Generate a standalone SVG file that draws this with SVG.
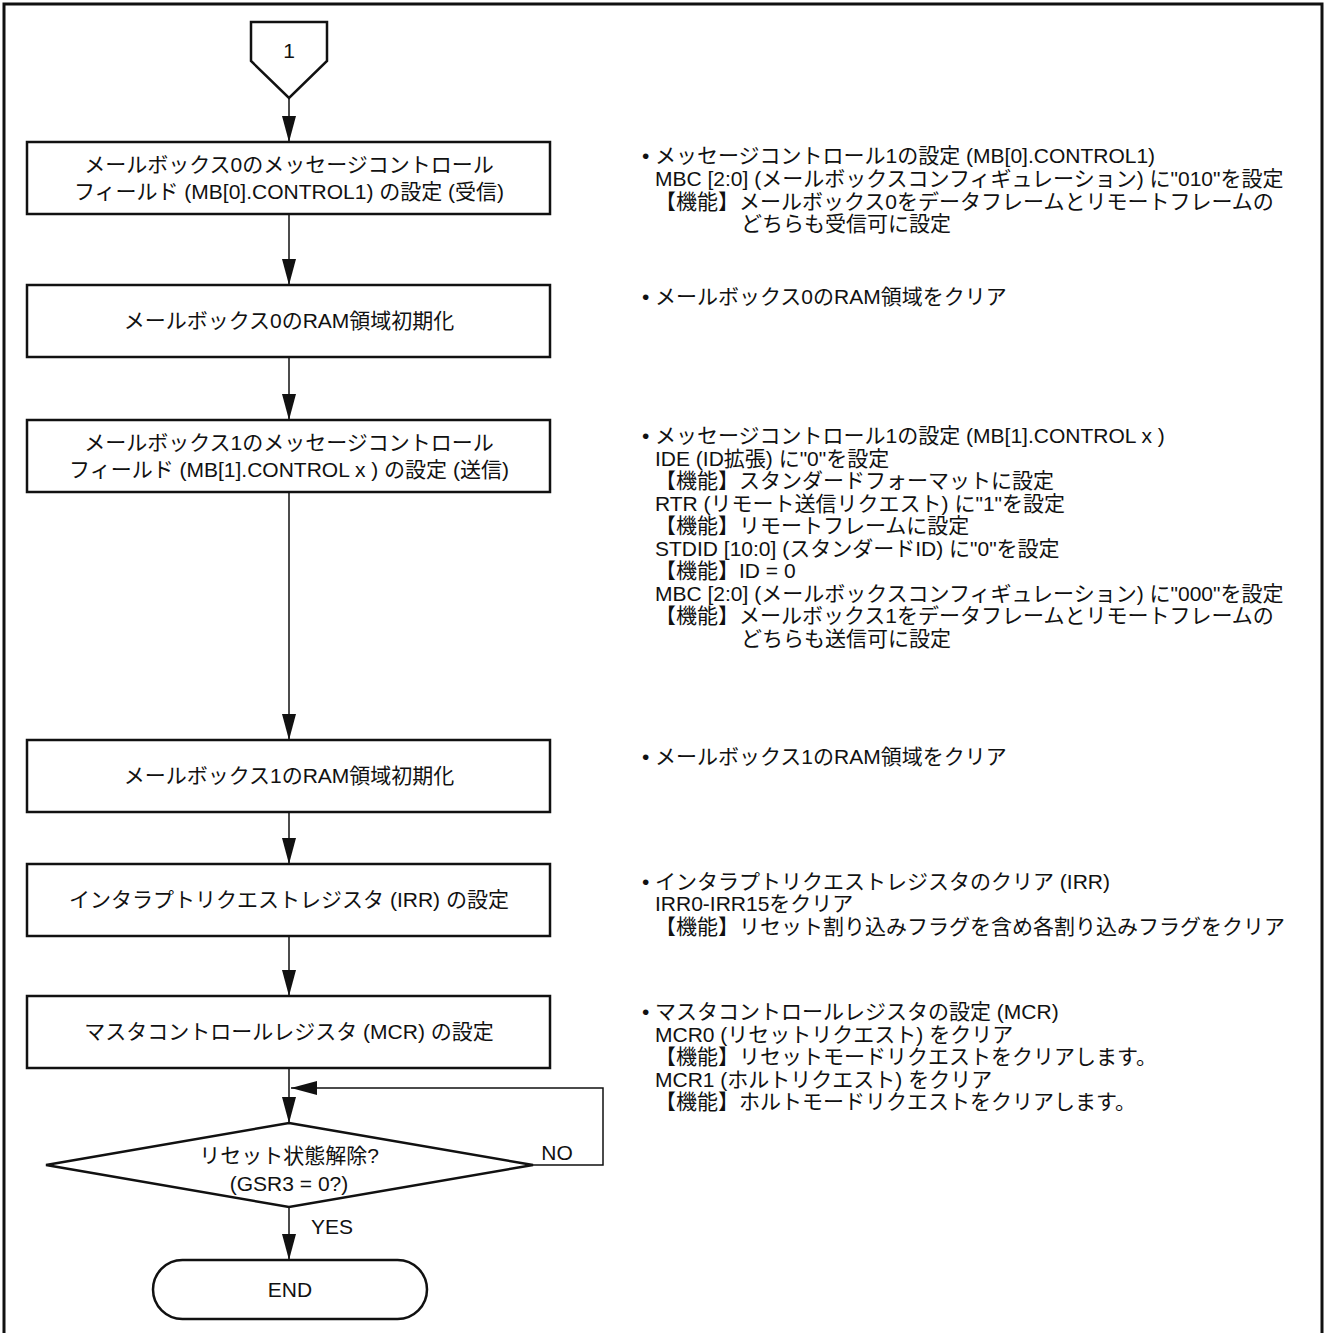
<svg xmlns="http://www.w3.org/2000/svg" width="1325" height="1333" viewBox="0 0 1325 1333">
<style>
text{font-family:"Liberation Sans","Noto Sans CJK JP",sans-serif;font-size:21px;fill:#111}
.c{text-anchor:middle}
.n{font-size:21.4px}
.shape{fill:#fff;stroke:#111;stroke-width:2.5}
.ln{fill:none;stroke:#111;stroke-width:1.5}
</style>
<defs>
<marker id="ah" viewBox="0 0 26 14" refX="26" refY="7" markerWidth="26" markerHeight="14" orient="auto" markerUnits="userSpaceOnUse"><path d="M0,0 L26,7 L0,14 z" fill="#111"/></marker>
</defs>
<rect x="0" y="0" width="1325" height="1333" fill="#fff"/>
<path d="M4,1345 V4 H1322 V1345" fill="none" stroke="#111" stroke-width="3"/>

<g id="connectors">
<line class="ln" x1="289" y1="98" x2="289" y2="142" marker-end="url(#ah)"/>
<line class="ln" x1="289" y1="214" x2="289" y2="285" marker-end="url(#ah)"/>
<line class="ln" x1="289" y1="357" x2="289" y2="420" marker-end="url(#ah)"/>
<line class="ln" x1="289" y1="492" x2="289" y2="740" marker-end="url(#ah)"/>
<line class="ln" x1="289" y1="812" x2="289" y2="864" marker-end="url(#ah)"/>
<line class="ln" x1="289" y1="936" x2="289" y2="996" marker-end="url(#ah)"/>
<line class="ln" x1="289" y1="1068" x2="289" y2="1123" marker-end="url(#ah)"/>
<path class="ln" d="M533,1165 H603 V1088 H291" marker-end="url(#ah)"/>
<line class="ln" x1="289" y1="1207" x2="289" y2="1260" marker-end="url(#ah)"/>
<text x="557" y="1160" class="c">NO</text>
<text x="311" y="1234">YES</text>
</g>

<g id="start">
<path class="shape" d="M251,22 H327 V61 L289,98 L251,61 Z"/>
<text x="289" y="58" class="c">1</text>
</g>

<g id="box1">
<rect class="shape" x="27" y="142" width="523" height="72"/>
<text x="289" y="172" class="c">メールボックス0のメッセージコントロール</text>
<text x="289" y="199" class="c">フィールド (MB[0].CONTROL1) の設定 (受信)</text>
</g>

<g id="box2">
<rect class="shape" x="27" y="285" width="523" height="72"/>
<text x="289" y="328" class="c">メールボックス0のRAM領域初期化</text>
</g>

<g id="box3">
<rect class="shape" x="27" y="420" width="523" height="72"/>
<text x="289" y="450" class="c">メールボックス1のメッセージコントロール</text>
<text x="289" y="477" class="c">フィールド (MB[1].CONTROL x ) の設定 (送信)</text>
</g>

<g id="box4">
<rect class="shape" x="27" y="740" width="523" height="72"/>
<text x="289" y="783" class="c">メールボックス1のRAM領域初期化</text>
</g>

<g id="box5">
<rect class="shape" x="27" y="864" width="523" height="72"/>
<text x="289" y="907" class="c">インタラプトリクエストレジスタ (IRR) の設定</text>
</g>

<g id="box6">
<rect class="shape" x="27" y="996" width="523" height="72"/>
<text x="289" y="1039" class="c">マスタコントロールレジスタ (MCR) の設定</text>
</g>

<g id="decision">
<path class="shape" d="M289,1123 L533,1165 L289,1207 L46,1165 Z"/>
<text x="289" y="1163" class="c">リセット状態解除?</text>
<text x="289" y="1191" class="c">(GSR3 = 0?)</text>
</g>

<g id="end">
<rect class="shape" x="153" y="1260" width="274" height="59" rx="29.5"/>
<text x="290" y="1297" class="c">END</text>
</g>

<g id="note1" class="n">
<text x="642" y="163">•</text>
<text x="655" y="163">メッセージコントロール1の設定 (MB[0].CONTROL1)</text>
<text x="655" y="186">MBC [2:0] (メールボックスコンフィギュレーション) に"010"を設定</text>
<text x="655" y="209">【機能】メールボックス0をデータフレームとリモートフレームの</text>
<text x="741" y="231">どちらも受信可に設定</text>
</g>

<g id="note2" class="n">
<text x="642" y="304">•</text>
<text x="655" y="304">メールボックス0のRAM領域をクリア</text>
</g>

<g id="note3" class="n">
<text x="642" y="443">•</text>
<text x="655" y="443">メッセージコントロール1の設定 (MB[1].CONTROL x )</text>
<text x="655" y="465.5">IDE (ID拡張) に"0"を設定</text>
<text x="655" y="488">【機能】スタンダードフォーマットに設定</text>
<text x="655" y="510.5">RTR (リモート送信リクエスト) に"1"を設定</text>
<text x="655" y="533">【機能】リモートフレームに設定</text>
<text x="655" y="555.5">STDID [10:0] (スタンダードID) に"0"を設定</text>
<text x="655" y="578">【機能】ID = 0</text>
<text x="655" y="600.5">MBC [2:0] (メールボックスコンフィギュレーション) に"000"を設定</text>
<text x="655" y="623">【機能】メールボックス1をデータフレームとリモートフレームの</text>
<text x="741" y="645.5">どちらも送信可に設定</text>
</g>

<g id="note4" class="n">
<text x="642" y="764">•</text>
<text x="655" y="764">メールボックス1のRAM領域をクリア</text>
</g>

<g id="note5" class="n">
<text x="642" y="889">•</text>
<text x="655" y="889">インタラプトリクエストレジスタのクリア (IRR)</text>
<text x="655" y="911">IRR0-IRR15をクリア</text>
<text x="655" y="934">【機能】リセット割り込みフラグを含め各割り込みフラグをクリア</text>
</g>

<g id="note6" class="n">
<text x="642" y="1019">•</text>
<text x="655" y="1019">マスタコントロールレジスタの設定 (MCR)</text>
<text x="655" y="1041.5">MCR0 (リセットリクエスト) をクリア</text>
<text x="655" y="1064">【機能】リセットモードリクエストをクリアします。</text>
<text x="655" y="1086.5">MCR1 (ホルトリクエスト) をクリア</text>
<text x="655" y="1109">【機能】ホルトモードリクエストをクリアします。</text>
</g>
</svg>
